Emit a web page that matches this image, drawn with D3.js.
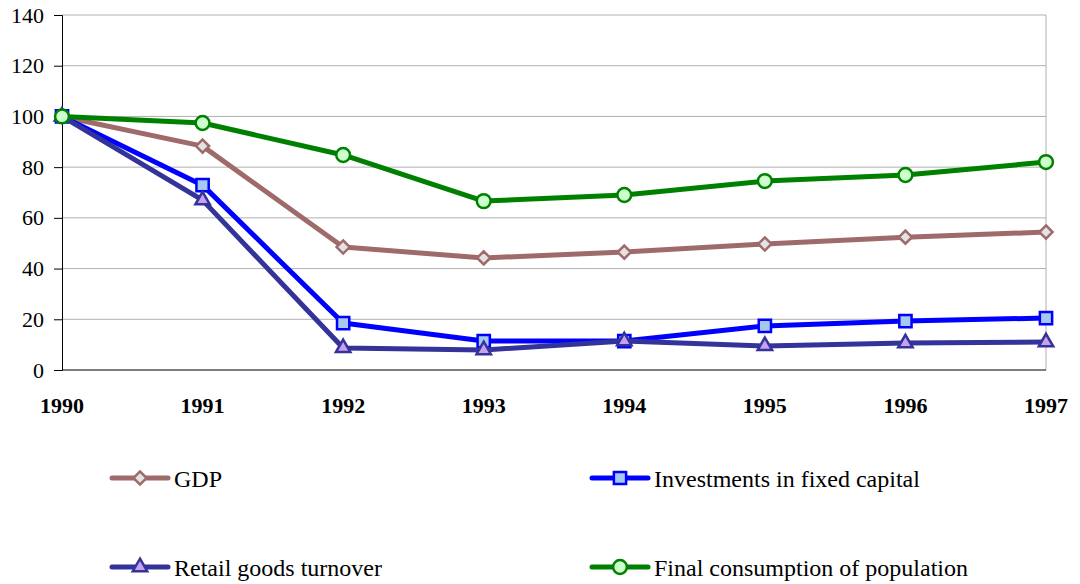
<!DOCTYPE html>
<html>
<head>
<meta charset="utf-8">
<script src="https://cdn.jsdelivr.net/npm/d3@7"></script>
<style>
  body { margin: 0; background: #fff; }
  svg text { font-family: "Liberation Serif", "Times New Roman", serif; }
</style>
</head>
<body>
<div id="chart"></div>
<script>
// data
var years = [1990, 1991, 1992, 1993, 1994, 1995, 1996, 1997];
var gdp = [100, 88.3, 48.5, 44.2, 46.5, 49.7, 52.4, 54.4];
var investments = [100, 72.9, 18.5, 11.4, 11.4, 17.4, 19.3, 20.5];
var retail = [100, 67, 8.7, 7.9, 11.4, 9.5, 10.6, 11];
var consumption = [100, 97.4, 84.8, 66.6, 69, 74.5, 76.9, 82];
var yTicks = [0, 20, 40, 60, 80, 100, 120, 140];

var width = 1080, height = 584;
var plotLeft = 62, plotRight = 1046, plotTop = 15, plotBottom = 370;
var serif = "'Liberation Serif', 'Times New Roman', serif";

var svg = d3.select("#chart").append("svg")
    .attr("width", width)
    .attr("height", height);

var x = d3.scalePoint().domain(years).range([plotLeft, plotRight]);
var y = d3.scaleLinear().domain([0, 140]).range([plotBottom, plotTop]);

// gridlines
svg.append("g").selectAll("line")
    .data(yTicks.filter(d => d > 0))
    .enter().append("line")
    .attr("x1", plotLeft).attr("x2", plotRight)
    .attr("y1", d => y(d)).attr("y2", d => y(d))
    .attr("stroke", "#b0b0b0").attr("stroke-width", 1);

// right border line
svg.append("line")
    .attr("x1", plotRight).attr("x2", plotRight)
    .attr("y1", plotTop).attr("y2", plotBottom)
    .attr("stroke", "#b0b0b0").attr("stroke-width", 1);

// y axis
var yAxis = svg.append("g")
    .attr("transform", "translate(" + plotLeft + ",0)")
    .call(d3.axisLeft(y).tickValues(yTicks).tickSize(8).tickPadding(10))
    .attr("font-family", serif)
    .attr("font-size", 22);
yAxis.select(".domain").attr("stroke", "#000");
yAxis.selectAll("text").attr("fill", "#000");

// x axis line
svg.append("line")
    .attr("x1", plotLeft).attr("x2", plotRight)
    .attr("y1", plotBottom).attr("y2", plotBottom)
    .attr("stroke", "#000").attr("stroke-width", 1.2);

// x labels
svg.append("g").selectAll("text")
    .data(years)
    .enter().append("text")
    .attr("x", d => x(d))
    .attr("y", 413)
    .attr("text-anchor", "middle")
    .attr("font-family", serif)
    .attr("font-size", 22)
    .attr("font-weight", "bold")
    .text(d => d);

var series = [
    { name: "GDP", values: gdp, stroke: "#9E6A6A", fill: "#E3E3E3", shape: "diamond", lx: 112, ly: 478 },
    { name: "Investments in fixed capital", values: investments, stroke: "#0000FF", fill: "#A6C8F0", shape: "square", lx: 592, ly: 478 },
    { name: "Retail goods turnover", values: retail, stroke: "#333399", fill: "#C8A0F0", shape: "triangle", lx: 112, ly: 567 },
    { name: "Final consumption of population", values: consumption, stroke: "#008000", fill: "#CCFFCC", shape: "circle", lx: 592, ly: 567 }
];

var symbols = {
    diamond: d3.symbol().type(d3.symbolDiamond2).size(110),
    square: d3.symbol().type(d3.symbolSquare).size(150),
    triangle: d3.symbol().type(d3.symbolTriangle).size(90),
    circle: d3.symbol().type(d3.symbolCircle).size(150)
};

var line = d3.line()
    .x((d, i) => x(years[i]))
    .y(d => y(d));

series.forEach(function (s) {
    var g = svg.append("g");
    g.append("path")
        .attr("d", line(s.values))
        .attr("fill", "none")
        .attr("stroke", s.stroke)
        .attr("stroke-width", 5)
        .attr("stroke-linejoin", "round");
    g.selectAll("path.pt")
        .data(s.values)
        .enter().append("path")
        .attr("class", "pt")
        .attr("transform", (d, i) => "translate(" + x(years[i]) + "," + y(d) + ")")
        .attr("d", symbols[s.shape])
        .attr("fill", s.fill)
        .attr("stroke", s.stroke)
        .attr("stroke-width", 2.5);

    // legend entry
    var lg = svg.append("g");
    lg.append("line")
        .attr("x1", s.lx).attr("x2", s.lx + 56)
        .attr("y1", s.ly).attr("y2", s.ly)
        .attr("stroke", s.stroke).attr("stroke-width", 5)
        .attr("stroke-linecap", "round");
    lg.append("path")
        .attr("transform", "translate(" + (s.lx + 28) + "," + s.ly + ")")
        .attr("d", symbols[s.shape])
        .attr("fill", s.fill)
        .attr("stroke", s.stroke)
        .attr("stroke-width", 2.5);
    lg.append("text")
        .attr("x", s.lx + 62)
        .attr("y", s.ly + 9)
        .attr("font-family", serif)
        .attr("font-size", 24)
        .text(s.name);
});
</script>
</body>
</html>
